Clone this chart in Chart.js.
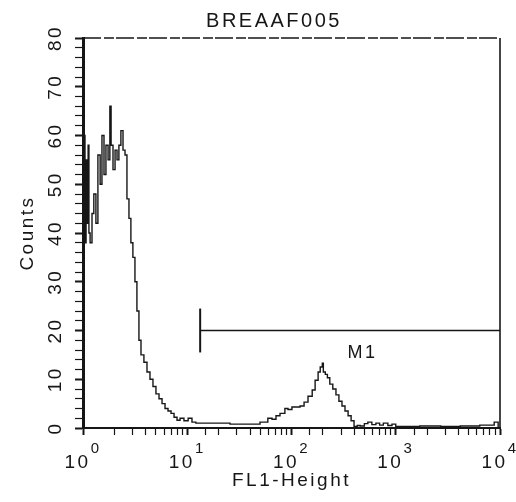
<!DOCTYPE html>
<html>
<head>
<meta charset="utf-8">
<script src="https://cdn.jsdelivr.net/npm/chart.js@4.4.0/dist/chart.umd.min.js"></script>
<style>
  html, body { margin: 0; padding: 0; background: #fff; }
</style>
</head>
<body>
<canvas id="hist" width="516" height="502"></canvas>
<script>
const sampleName = 'BREAAF005';
const xTitle = 'FL1-Height';
const yTitle = 'Counts';
const decades = [1, 10, 100, 1000, 10000];

// channel position (FL1) and event count for each histogram step
const fl1 = [
  1.00, 1.02, 1.045, 1.07, 1.09, 1.12, 1.14, 1.17, 1.22, 1.27,
  1.33, 1.39, 1.46, 1.52, 1.59, 1.66, 1.74, 1.81, 1.86, 1.94,
  2.03, 2.12, 2.21, 2.31, 2.42, 2.53, 2.64, 2.76, 2.88, 3.01,
  3.15, 3.29, 3.44, 3.60, 3.84, 4.11, 4.39, 4.69, 5.01, 5.36,
  5.73, 6.12, 6.54, 6.99, 7.47, 7.98, 8.53, 9.3, 10.2, 11.1,
  12.1, 13.2, 16.5, 20.5, 25.7, 29.3, 35.9, 49.9, 59.3, 65,
  71, 77.6, 86.4, 92.5, 101, 110.5, 120.8, 132, 144, 158,
  168.5, 180, 188.6, 197.5, 202, 211, 221, 233, 249, 267,
  285, 305, 326, 349, 373, 398, 427, 456, 500, 540,
  590, 645, 700, 760, 840, 920, 1000, 1100, 1700, 2700,
  4150, 6400, 8800, 9600, 10000
];
const counts = [
  52, 45, 60, 38, 55, 42, 58, 40, 38, 44,
  48, 42, 56, 50, 60, 52, 58, 55, 66, 58,
  53, 57, 55, 58, 61, 57, 56, 47, 43, 38,
  35, 30, 24, 18, 15, 13.5, 11.5, 10, 8.5, 7,
  6, 5, 4, 3.5, 3, 2.2, 1.6, 2, 1.5, 2,
  1.2, 1, 1, 1, 1, 0.8, 0.8, 0.8, 1.2, 2,
  1.8, 2.5, 3, 4, 3.8, 4.3, 4.3, 4.5, 5.3, 6.5,
  7.8, 9.8, 11.5, 12.5, 13.3, 11.5, 11, 10.3, 9, 8,
  6.8, 5.5, 4.5, 3.5, 2.5, 1.5, 0.3, 0.5, 0.4, 0.9,
  1.2, 0.7, 1, 0.6, 1, 0.5, 0.8, 0.3, 0.3, 0.4,
  0.3, 0.4, 0.6, 1.2, 0
];

// M1 gate
const markerName = 'M1';
const markerFrom = 13.3;
const markerTo = 10000;
const markerLevel = 20;
const markerCap = 4.5;
const markerLabelAt = 480;

const ink = '#161616';
const family = '"Liberation Sans", Arial, Helvetica, sans-serif';
const tracking = '2.5px';

const isDecade = v => Number.isInteger(Math.round(Math.log10(v) * 1000) / 1000);

// wide letter spacing on every text drawn in the canvas
const spacing = {
  id: 'spacing',
  beforeLayout(chart) { chart.ctx.letterSpacing = tracking; },
  beforeDraw(chart) { chart.ctx.letterSpacing = tracking; }
};

const decorations = {
  id: 'decorations',
  afterDraw(chart) {
    const { ctx, chartArea: a, scales: { x, y } } = chart;
    ctx.save();
    ctx.strokeStyle = ink;
    ctx.fillStyle = ink;

    // top and right frame
    ctx.lineWidth = 1.3;
    ctx.setLineDash([18, 3, 10, 2]);
    ctx.beginPath();
    ctx.moveTo(a.left, a.top);
    ctx.lineTo(a.right, a.top);
    ctx.stroke();
    ctx.setLineDash([]);
    ctx.lineWidth = 1.6;
    ctx.beginPath();
    ctx.moveTo(a.right, a.top);
    ctx.lineTo(a.right, a.bottom);
    ctx.stroke();

    // decade labels with raised exponent
    const base = `19px ${family}`;
    const sup = `15px ${family}`;
    ctx.textAlign = 'left';
    ctx.textBaseline = 'alphabetic';
    decades.forEach(d => {
      const px = x.getPixelForValue(d);
      const exp = String(Math.round(Math.log10(d)));
      ctx.font = base;
      const w1 = ctx.measureText('10').width;
      ctx.font = sup;
      const w2 = ctx.measureText(exp).width;
      const left = px - (w1 + w2) / 2;
      ctx.font = base;
      ctx.fillText('10', left, a.bottom + 40);
      ctx.font = sup;
      ctx.fillText(exp, left + w1, a.bottom + 25);
    });

    // sample name
    ctx.font = `20px ${family}`;
    ctx.textAlign = 'center';
    ctx.textBaseline = 'middle';
    ctx.fillText(sampleName, 274, 21);

    // gate name
    ctx.font = `18px ${family}`;
    ctx.fillText(markerName, x.getPixelForValue(markerLabelAt), y.getPixelForValue(markerLevel) + 23);
    ctx.restore();
  }
};

new Chart(document.getElementById('hist'), {
  type: 'line',
  data: {
    datasets: [
      {
        data: fl1.map((v, i) => ({ x: v, y: counts[i] })),
        stepped: 'after',
        borderColor: ink,
        borderWidth: 1.4,
        pointRadius: 0
      },
      {
        data: [{ x: markerFrom, y: markerLevel }, { x: markerTo, y: markerLevel }],
        borderColor: ink,
        borderWidth: 1.5,
        pointRadius: 0
      },
      {
        data: [{ x: markerFrom, y: markerLevel - markerCap }, { x: markerFrom, y: markerLevel + markerCap }],
        borderColor: ink,
        borderWidth: 2,
        pointRadius: 0
      }
    ]
  },
  options: {
    responsive: false,
    animation: false,
    layout: { padding: { top: 38, right: 16, left: 0, bottom: 0 } },
    plugins: {
      legend: { display: false },
      tooltip: { enabled: false }
    },
    scales: {
      x: {
        type: 'logarithmic',
        position: 'bottom',
        min: 1,
        max: 10000,
        grid: {
          drawOnChartArea: false,
          drawTicks: true,
          tickLength: 7,
          tickColor: ink,
          tickWidth: c => (c.tick && isDecade(c.tick.value) ? 2 : 1.2)
        },
        border: { color: ink, width: 2 },
        ticks: { display: false, autoSkip: false },
        title: {
          display: true,
          text: xTitle,
          color: ink,
          font: { family, size: 19 },
          padding: { top: 0, bottom: 10 }
        },
        afterFit(scale) { scale.height = 74; }
      },
      y: {
        type: 'linear',
        min: 0,
        max: 80,
        grid: {
          drawOnChartArea: false,
          drawTicks: true,
          tickLength: 8,
          tickColor: ink,
          tickWidth: c => (c.tick && c.tick.value % 10 === 0 ? 2 : 1.2)
        },
        border: { color: ink, width: 3 },
        ticks: {
          stepSize: 2,
          autoSkip: false,
          minRotation: 90,
          maxRotation: 90,
          crossAlign: 'center',
          padding: 6,
          color: ink,
          font: { family, size: 19 },
          callback: v => (v % 10 === 0 ? String(v) : '')
        },
        title: {
          display: true,
          text: yTitle,
          color: ink,
          font: { family, size: 19 },
          padding: { top: 16, bottom: 0 }
        },
        afterFit(scale) { scale.width = 83; }
      }
    }
  },
  plugins: [spacing, decorations]
});
</script>
</body>
</html>
